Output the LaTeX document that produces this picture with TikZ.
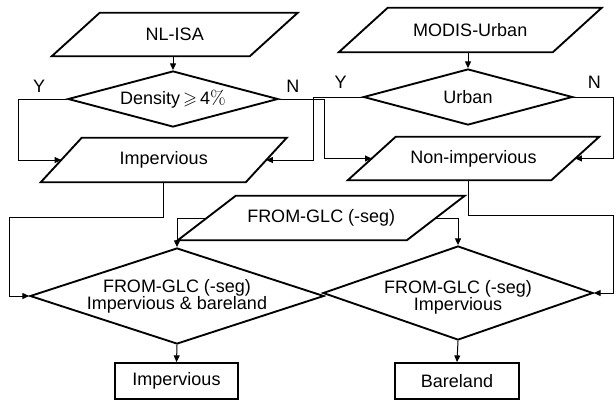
\documentclass[tikz,border=0pt]{standalone}
\usepackage{amssymb}
\usepackage[no-math]{fontspec}
\setmainfont{Liberation Sans}
\usetikzlibrary{shapes.geometric,arrows.meta,calc}
% \pgram{name}{x}{y}{mid width px}{height px}{slant px}{text}
\newcommand\pgram[7]{%
  \node[pbody,minimum width=#4*0.75pt,minimum height=#5*0.75pt] (#1) at (#2,#3) {#7};
  \draw[shp] ([xshift=#6*0.375pt]#1.north west) -- ([xshift=#6*0.375pt]#1.north east)
    -- ([xshift=-#6*0.375pt]#1.south east) -- ([xshift=-#6*0.375pt]#1.south west) -- cycle;
}
\begin{document}
\begin{tikzpicture}[x=0.75pt,y=-0.75pt,
  every node/.style={font=\fontsize{13.5}{12.8}\selectfont},
  shp/.style={draw,line width=1.4pt,inner sep=0pt},
  pbody/.style={rectangle,inner sep=0pt,align=center},
  dia/.style={shp,diamond},
  box/.style={shp,rectangle,align=center},
  arr/.style={line width=0.75pt,-{Triangle[length=5pt,width=4.5pt]}},
  lbl/.style={inner sep=0pt}]
\useasboundingbox (0,0) rectangle (616,400);
% input parallelograms
\pgram{p1}{174.75}{34.5}{197.5}{43}{48}{NL-ISA}
\pgram{p3}{470.25}{30}{213.5}{44}{49}{MODIS-Urban}
% decisions
\node[dia,minimum width=157.5pt,minimum height=42pt,label={[lbl]center:Density\,$\geqslant$\,4$\%$}] (d1) at (173,99) {};
\node[dia,minimum width=156.75pt,minimum height=42pt,label={[lbl]center:Urban}] (d2) at (468,97) {};
% intermediate parallelograms
\pgram{p2}{163.75}{160}{204.5}{44}{41}{Impervious}
\pgram{p4}{473.5}{158.5}{203}{43}{48}{Non-impervious}
\pgram{p5}{321.25}{218}{228.5}{44}{58}{FROM-GLC (-seg)}
% lower decisions
\node[dia,minimum width=220.5pt,minimum height=72pt,label={[lbl,align=center]center:FROM-GLC (-seg)\\Impervious \& bareland}] (d3) at (177,296) {};
\node[dia,minimum width=202.5pt,minimum height=70.5pt,label={[lbl,align=center,yshift=-3pt]center:FROM-GLC (-seg)\\Impervious}] (d4) at (458,293) {};
% outputs
\node[box,minimum width=92.25pt,minimum height=27pt] (r1) at (176.5,381) {Impervious};
\node[box,minimum width=93pt,minimum height=27pt] (r2) at (457,381) {Bareland};
% junction columns
\coordinate (j1) at (324,0);
\coordinate (j2) at (313,0);
\coordinate (j3) at (613,0);
\coordinate (j4) at (9,0);
\coordinate (j5) at (18,0);
% labels
\node[lbl] at ($(d1.west)+(-28,-13)$) {Y};
\node[lbl] at ($(d1.east)+(14,-13)$) {N};
\node[lbl] at ($(d2.west)+(-22,-15)$) {Y};
\node[lbl] at ($(d2.east)+(21,-15)$) {N};
% connectors
\draw[arr] (p1.south -| d1.north) -- (d1.north);
\draw[arr] (p3.south -| d2.north) -- (d2.north);
\draw[arr] (d1.west) -| (j5 |- p2.west) -- (p2.west);
\draw[arr] (d1.east) -| (j1 |- p4.west) -- (p4.west);
\draw[arr] (d2.west) -| (j2 |- p2.east) -- (p2.east);
\draw[arr] (d2.east) -| (j3 |- p4.east) -- (p4.east);
\draw[arr] (p2.south) -- ++(0,35) -| (j4 |- d3.west) -- (d3.west);
\draw[arr] (p4.south -| d2.south) -- ++(0,35) -| (j3 |- d4.east) -- (d4.east);
\draw[arr] (p5.west) -| (d3.north);
\draw[arr] (p5.east) -| (d4.north);
\draw[arr] (d3.south) -- (r1.north);
\draw[arr] (d4.south) -- (r2.north);
\end{tikzpicture}
\end{document}
